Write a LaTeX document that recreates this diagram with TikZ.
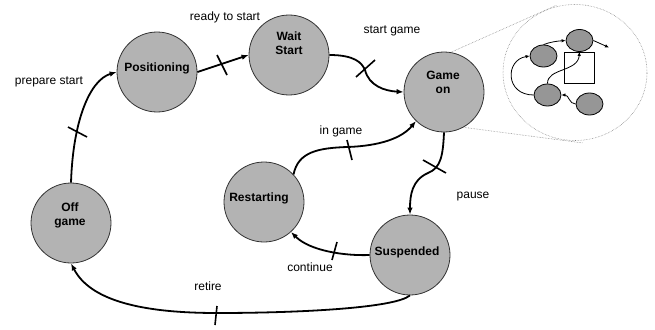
\documentclass[tikz,border=0pt]{standalone}
\usepackage{fontspec}
\setmainfont{Liberation Sans}
\usetikzlibrary{arrows.meta,shapes.geometric}
\definecolor{stfill}{HTML}{B3B3B3}
\definecolor{stline}{HTML}{333333}
\definecolor{minifill}{HTML}{969696}
\begin{document}
\begin{tikzpicture}[x=1pt,y=-1pt,
  state/.style={circle,minimum size=80pt,inner sep=0pt,fill=stfill,draw=stline,line width=0.8pt},
  slabel/.style={anchor=base,inner sep=0pt,font=\fontsize{12}{14}\selectfont\bfseries},
  elabel/.style={anchor=base,inner sep=0pt,font=\fontsize{12}{14}\selectfont},
  trans/.style={line width=1.8pt,-{Latex[length=7pt,width=5.5pt]}},
  tick/.style={line width=1.6pt},
  zoomline/.style={densely dotted,draw=gray,line width=0.55pt},
  mini/.style={ellipse,minimum width=27pt,minimum height=22pt,inner sep=0pt,fill=minifill,draw=black,line width=0.8pt},
  minitrans/.style={line width=0.8pt,-{Latex[length=4pt,width=3.5pt]}}]
\useasboundingbox (0,0) rectangle (655,329);
% states
\node[state] (pos) at (157,72) {};
\node[state] (ws) at (289,55) {};
\node[state] (go) at (444,92) {};
\node[state] (rs) at (264,202) {};
\node[state] (off) at (71,223) {};
\node[state] (su) at (410,255) {};
% state names
\node[slabel] (tpos) at (157,71) {Positioning};
\node[slabel] (tws1) at (289,41) {Wait};
\node[slabel] (tws2) at (289,55) {Start};
\node[slabel] (tgo1) at (443,79.5) {Game};
\node[slabel] (tgo2) at (443,93.5) {on};
\node[slabel] (trs) at (259,201.5) {Restarting};
\node[slabel] (toff1) at (70,211.5) {Off};
\node[slabel] (toff2) at (70,225.5) {game};
\node[slabel] (tsu) at (407,255) {Suspended};
% transition labels
\node[elabel] (lprep) at (49,84) {prepare start};
\node[elabel] (lready) at (225,21) {ready to start};
\node[elabel] (lstart) at (392,34) {start game};
\node[elabel] (lin) at (341,134) {in game};
\node[elabel] (lpause) at (473,198) {pause};
\node[elabel] (lcont) at (310,271) {continue};
\node[elabel] (lret) at (208,290) {retire};
% tick centres
\coordinate (c3) at (365,70);
\coordinate (c4) at (347,147);
\coordinate (c5) at (428,173);
\coordinate (c7) at (217,313);
% transitions
\draw[trans] (off.north) .. controls (73,120) and (90,80) .. (pos.west);
\draw[trans] (pos.east) -- (ws.west);
\draw[trans] (ws.east) .. controls (355,55) and (362,63) .. (c3) .. controls (369,86) and (385,91) .. (go.west);
\draw[trans] (rs.43) .. controls (298,152) and (318,148) .. (c4) .. controls (380,146) and (402,138) .. (go.226);
\draw[trans] (go.south) .. controls (443,155) and (441,168) .. (c5) .. controls (412,180) and (410,195) .. (su.north);
\draw[trans] (su.west) .. controls (345,256) and (310,251) .. (rs.312);
\draw[trans] (su.south) .. controls (395,308) and (300,313) .. (c7) .. controls (140,313) and (90,300) .. (off.south);
% ticks
\draw[tick] (68,127) -- (87,137);
\draw[tick] (217,55) -- (227,75);
\draw[tick] (356,77) -- (375,60);
\draw[tick] (347,140) -- (352,160);
\draw[tick] (423,160) -- (446,173);
\draw[tick] (337,242) -- (332,260);
\draw[tick] (217,306) -- (215,325);
% magnifier
\node[ellipse,minimum width=144pt,minimum height=136pt,inner sep=0pt,zoomline] (mag) at (575,72.5) {};
\coordinate (magtop) at (557,5);
\coordinate (magbot) at (583,143);
\draw[zoomline] (go.80) -- (magtop);
\draw[zoomline] (go.-61) -- (magbot);
% inset diagram
\node[draw=black,line width=0.8pt,minimum width=30pt,minimum height=31pt,inner sep=0pt] (sq) at (579,67.5) {};
\node[mini] (ma) at (543.5,56) {};
\node[mini] (mb) at (579.5,40.5) {};
\node[mini] (mc) at (547.5,95) {};
\node[mini] (md) at (589.5,104) {};
\coordinate (mout) at (609,47.5);
\draw[minitrans] (ma.north) .. controls (550,42) and (558,41) .. (mb.west);
\draw[minitrans] (mb.east) -- (mout);
\draw[minitrans] (mc.west) .. controls (505,95) and (505,60) .. (ma.west);
\draw[minitrans] (mc.north) .. controls (547,68) and (578,72) .. (mb.south);
\draw[minitrans] (md.west) .. controls (569,104) and (569,95) .. (mc.east);
\end{tikzpicture}
\end{document}
